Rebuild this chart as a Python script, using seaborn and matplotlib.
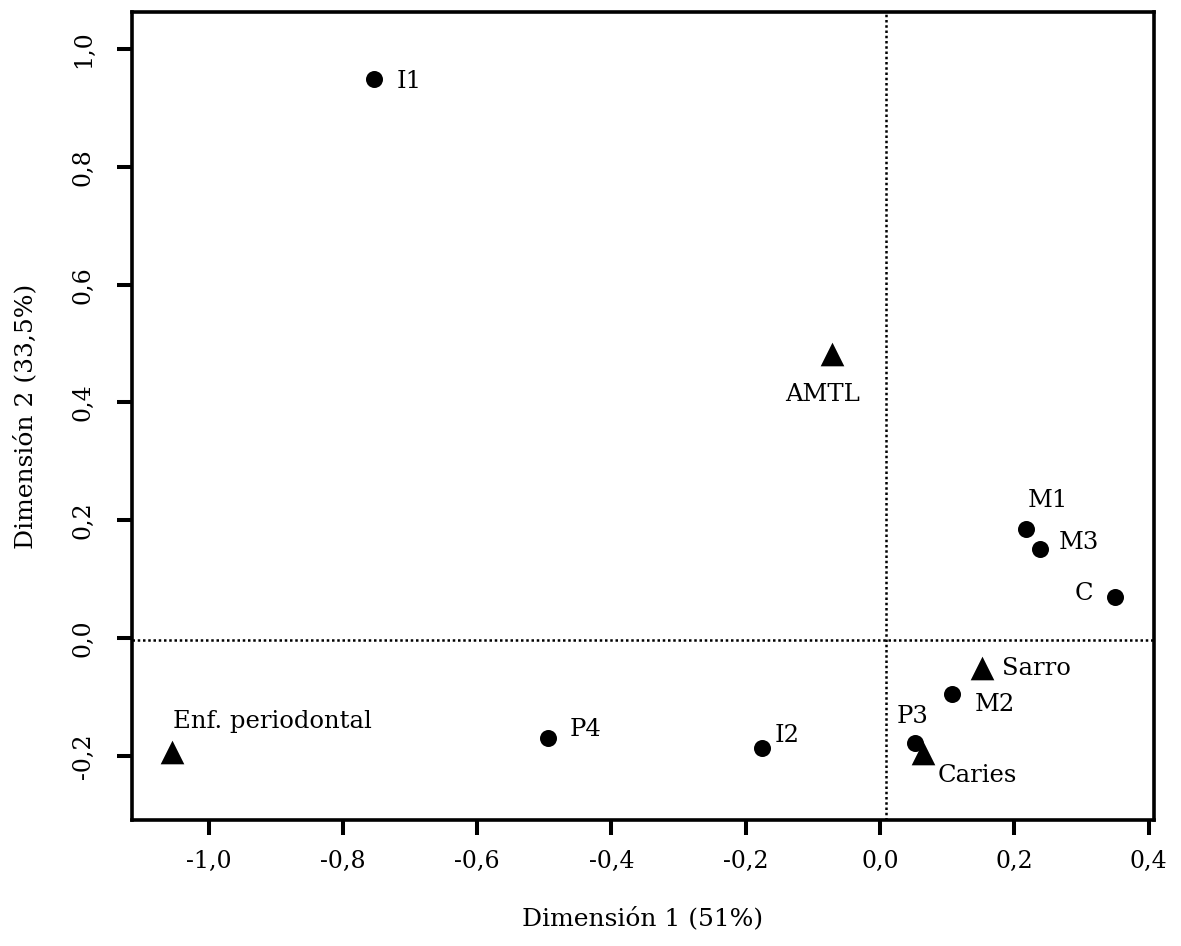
import matplotlib
matplotlib.use("Agg")
import matplotlib.pyplot as plt
import seaborn as sns
import pandas as pd

# Correspondence analysis coordinates: teeth (rows) and dental conditions (columns)
teeth = ["I1", "I2", "C", "P3", "P4", "M1", "M2", "M3"]
teeth_dim1 = [-0.753, -0.176, 0.350, 0.052, -0.494, 0.217, 0.107, 0.238]
teeth_dim2 = [0.949, -0.187, 0.070, -0.178, -0.170, 0.185, -0.095, 0.151]

conditions = ["AMTL", "Sarro", "Caries", "Enf. periodontal"]
cond_dim1 = [-0.0715, 0.152, 0.064, -1.054]
cond_dim2 = [0.482, -0.051, -0.195, -0.194]

x_ticks = [-1.0, -0.8, -0.6, -0.4, -0.2, 0.0, 0.2, 0.4]
y_ticks = [-0.2, 0.0, 0.2, 0.4, 0.6, 0.8, 1.0]
x_ticklabels = ["-1,0", "-0,8", "-0,6", "-0,4", "-0,2", "0,0", "0,2", "0,4"]
y_ticklabels = ["-0,2", "0,0", "0,2", "0,4", "0,6", "0,8", "1,0"]

# label placement: (ha, dx, dy) in pixels relative to the marker
label_pos = {
    "I1": ("left", 22, -2),
    "I2": ("left", 13, 13),
    "C": ("right", -22, 3),
    "P3": ("center", -2, 26),
    "P4": ("left", 21, 9),
    "M1": ("center", 22, 29),
    "M2": ("left", 23, -11),
    "M3": ("left", 19, 7),
    "AMTL": ("center", -9, -40),
    "Sarro": ("left", 20, 0),
    "Caries": ("left", 15, -23),
    "Enf. periodontal": ("left", 1, 31),
}

teeth_df = pd.DataFrame({"dim1": teeth_dim1, "dim2": teeth_dim2, "name": teeth})
cond_df = pd.DataFrame({"dim1": cond_dim1, "dim2": cond_dim2, "name": conditions})

sns.set_style("ticks")
plt.rcParams["font.family"] = ["DejaVu Serif", "DejaVu Sans"]

DPI = 100
fig = plt.figure(figsize=(11.81, 9.46), dpi=DPI)
ax = fig.add_axes([0.1118, 0.1332, 0.8653, 0.8541])

dotted = (0, (1, 1.1))
ax.axhline(-0.003, color="black", lw=1.8, ls=dotted, zorder=1)
ax.axvline(0.009, color="black", lw=1.8, ls=dotted, zorder=1)

sns.scatterplot(data=teeth_df, x="dim1", y="dim2", marker="o", s=150,
                color="black", edgecolor="black", linewidth=0, ax=ax, zorder=3)
sns.scatterplot(data=cond_df, x="dim1", y="dim2", marker="^", s=290,
                color="black", edgecolor="black", linewidth=0, ax=ax, zorder=3)

px2pt = 72.0 / DPI
for df in (teeth_df, cond_df):
    for _, r in df.iterrows():
        ha, dx, dy = label_pos[r["name"]]
        ax.annotate(r["name"], (r["dim1"], r["dim2"]),
                    xytext=(dx * px2pt, dy * px2pt), textcoords="offset points",
                    ha=ha, va="center", fontsize=17.5, color="black")

ax.set_xlim(-1.114, 0.408)
ax.set_ylim(-0.309, 1.063)
ax.set_xticks(x_ticks)
ax.set_xticklabels(x_ticklabels)
ax.set_yticks(y_ticks)
ax.set_yticklabels(y_ticklabels, rotation=90, va="center")

for side in ["left", "right", "top", "bottom"]:
    ax.spines[side].set_linewidth(2.6)
    ax.spines[side].set_color("black")

ax.tick_params(axis="both", direction="out", length=10.8, width=2.9,
               color="black", labelsize=17, labelcolor="black")
ax.tick_params(axis="x", pad=11)
ax.tick_params(axis="y", pad=16)
# top y tick drawn faint
ax.yaxis.get_major_ticks()[-1].tick1line.set_color("#e4e4e4")

ax.set_xlabel("Dimensión 1 (51%)", fontsize=18, labelpad=24, color="black")
ax.set_ylabel("Dimensión 2 (33,5%)", fontsize=18, labelpad=25, color="black")

fig.savefig("out.png", dpi=DPI, facecolor="white")
